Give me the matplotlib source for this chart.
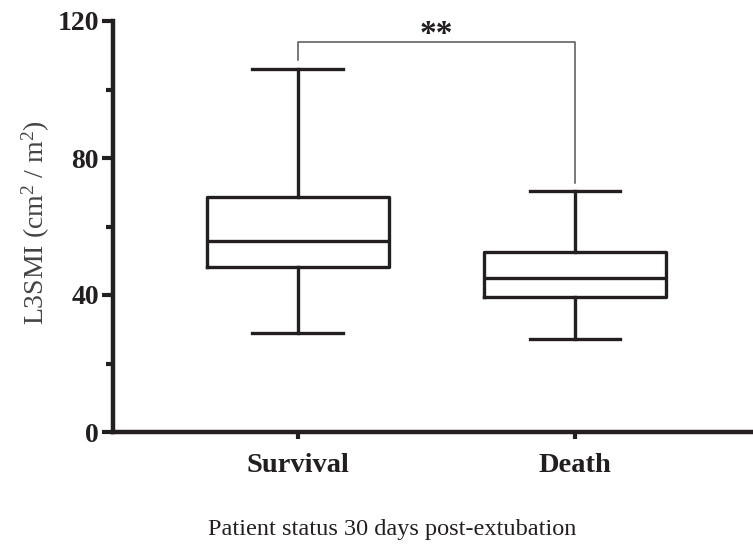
import matplotlib
matplotlib.use("Agg")
import matplotlib.pyplot as plt
from matplotlib.ticker import MultipleLocator

groups = ["Survival", "Death"]
whisker_low = [29.0, 27.1]
q1 = [48.3, 39.5]
median = [55.9, 44.9]
q3 = [68.7, 52.5]
whisker_high = [105.9, 70.3]
sig_label = "**"
bracket_y = 114.0
bracket_left_end = 108.6
bracket_right_end = 72.6

plt.rcParams['font.family'] = ['Liberation Serif', 'DejaVu Serif']
plt.rcParams['mathtext.fontset'] = 'custom'
plt.rcParams['mathtext.rm'] = 'Liberation Serif'
plt.rcParams['mathtext.it'] = 'Liberation Serif:italic'
plt.rcParams['mathtext.bf'] = 'Liberation Serif:bold'
ink = '#231f20'

fig = plt.figure(figsize=(7.53, 5.45), dpi=100)
ax = fig.add_axes([113/753, 1 - 432/545, 1 - 113/753 + 0.01, (432 - 21)/545])

stats = []
for i, g in enumerate(groups):
    stats.append(dict(label=g, whislo=whisker_low[i], q1=q1[i], med=median[i],
                      q3=q3[i], whishi=whisker_high[i], fliers=[]))
positions = [1, 2]
lw = 2.4
ax.bxp(stats, positions=positions, widths=0.656, capwidths=0.327, showfliers=False,
       boxprops=dict(color=ink, linewidth=lw),
       whiskerprops=dict(color=ink, linewidth=lw),
       capprops=dict(color=ink, linewidth=lw),
       medianprops=dict(color=ink, linewidth=lw))

ax.set_xlim(0.334, 2.642 + 0.01 * 753 / 277.3)
ax.set_ylim(0, 120)

for s in ['top', 'right']:
    ax.spines[s].set_visible(False)
for s in ['left', 'bottom']:
    ax.spines[s].set_linewidth(3.2)
    ax.spines[s].set_color(ink)
    ax.spines[s].set_capstyle('projecting')

ax.yaxis.set_major_locator(MultipleLocator(40))
ax.yaxis.set_minor_locator(MultipleLocator(20))
ax.tick_params(axis='y', which='major', length=8, width=3, color=ink, labelsize=20, pad=2)
ax.tick_params(axis='y', which='minor', length=5, width=3, color=ink)
ax.tick_params(axis='x', which='major', length=5, width=3, color=ink, labelsize=20.5, pad=10)
ax.set_xticks(positions)
ax.set_xticklabels(groups)
for t in ax.get_xticklabels() + ax.get_yticklabels():
    t.set_fontweight('bold')
    t.set_color(ink)

fig.text(36/753, 1 - 223/545, 'L3SMI (cm$^2$ / m$^2$)', rotation=90, fontsize=20,
         color='#444444', ha='center', va='center')
fig.text(392/753, 1 - 530/545, 'Patient status 30 days post-extubation', fontsize=17.5,
         color=ink, ha='center', va='center')

ax.plot([1, 1, 2, 2], [bracket_left_end, bracket_y, bracket_y, bracket_right_end],
        color='#555555', linewidth=1.1, clip_on=False)
ax.text(1.5, bracket_y - 2.6, sig_label, ha='center', va='bottom', fontsize=24,
        fontweight='bold', color=ink, clip_on=False)

fig.savefig('out.png', dpi=100)
